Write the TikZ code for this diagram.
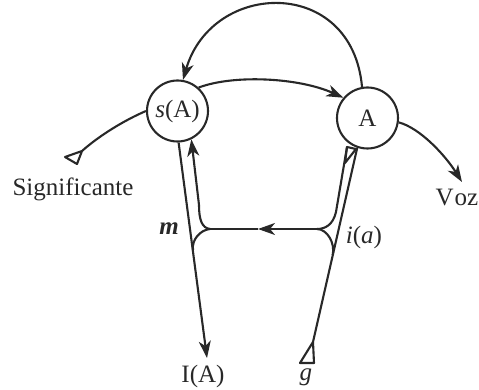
\documentclass[tikz,border=0pt]{standalone}
\usepackage{fontspec}
\setmainfont{Liberation Serif}
\usetikzlibrary{arrows.meta}
\definecolor{ink}{RGB}{40,40,40}
\begin{document}
\begin{tikzpicture}[x=0.5pt,y=-0.5pt, line width=1.05pt, color=ink,
  font=\fontsize{12.5}{14}\selectfont,
  circ/.style={circle,draw,minimum size=30.5pt,inner sep=0pt},
  arr/.style={-{Stealth[length=8.5pt,width=6pt,inset=2.5pt]}},
  tri/.style={line join=round,fill=white},
  lbl/.style={inner sep=0pt}]
\useasboundingbox (0,0) rectangle (479,390);
% circles
\node[circ] (sA) at (177.5,111) {\textit{s}(A)};
\node[circ] (A) at (367.5,118) {A};
% coordinates
\coordinate (sig) at (82,151);
\coordinate (voz) at (462,182);
\coordinate (IA) at (207,358);
\coordinate (gT) at (313,342);
\coordinate (hL) at (210,229);
\coordinate (hR) at (317,229);
\coordinate (hM) at (258,229);
\coordinate (iLtop) at (199,205);
\coordinate (iLjoin) at (193,250);
\coordinate (iRtop) at (347,147);
\coordinate (iRbot) at (336,212);
\coordinate (iRjoin) at (332.7,255);
% labels
\node[lbl] (tSig) at (73,189) {Significante};
\node[lbl] (tVoz) at (457,198) {V\kern0.5pt oz};
\node[lbl] (tm) at (169,229) {\textbf{\textit{m}}};
\node[lbl] (tia) at (364,237) {\textit{i}(\textit{a})};
\node[lbl] (tIA) at (203,376) {I(A)};
\node[lbl] (tg) at (306,377) {\textit{g}};
% top arc A -> s(A)
\draw[arr] (A.100) .. controls (352,-24) and (212,-20) .. (sA.80);
% s(A) -> A
\draw[arr] (sA.48) .. controls (235,74) and (300,78) .. (A.140);
% A -> Voz
\draw[arr] (A.-8) .. controls (420,128) and (445,155) .. (voz);
% Significante
\draw (sA.180) .. controls (125,120) and (100,135) .. (sig);
\draw[tri] (sig) -- (65,157) -- (77,164) -- cycle;
% left outer line to I(A)
\draw[arr] (sA.-88) -- (IA);
% left inner line with arrow into s(A)
\draw[arr] (hL) .. controls (202,228) and (199,220) .. (iLtop) -- (sA.-64);
% left lower branch
\draw (hL) .. controls (200,230) and (191.5,240) .. (iLjoin);
% horizontal with arrow pointing left
\draw[arr] (hR) -- (hM);
\draw (hM) -- (hL);
% right outer line from g
\draw (A.-109) -- (gT);
\draw[tri] (gT) -- (314,363) -- (300,363) -- cycle;
% right inner line with tail triangle
\draw[tri] (iRtop) -- (356,149) -- (345,163) -- cycle;
\draw (iRtop) -- (iRbot) .. controls (333,225) and (325,229) .. (hR);
% right lower branch
\draw (hR) .. controls (327,229) and (335.4,243) .. (iRjoin);
\end{tikzpicture}
\end{document}
